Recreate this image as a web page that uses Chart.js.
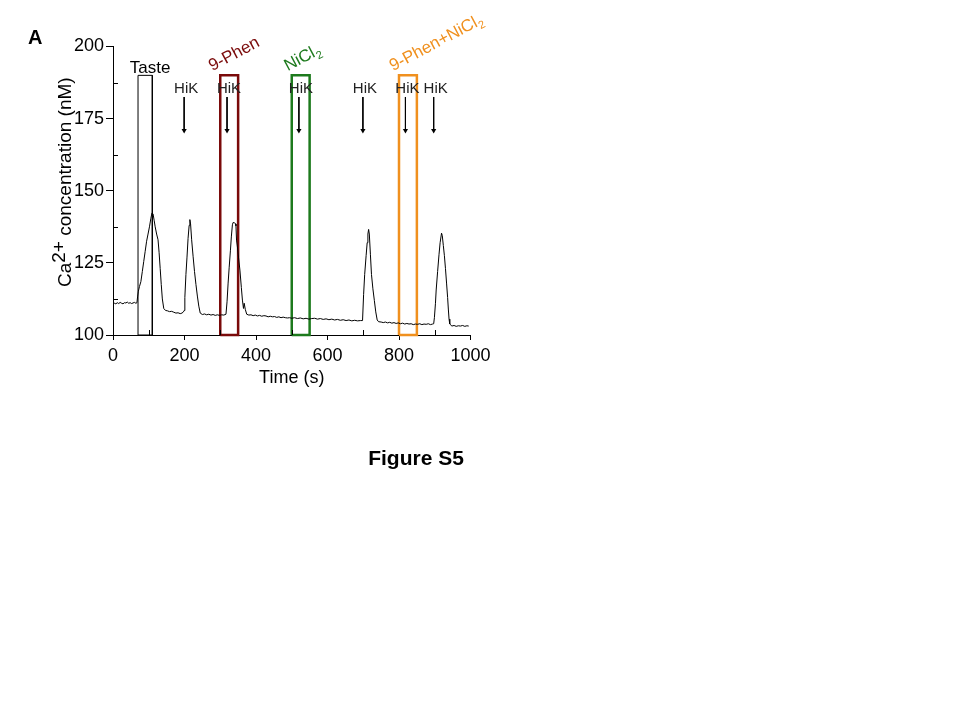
<!DOCTYPE html>
<html>
<head>
<meta charset="utf-8">
<script src="https://cdn.jsdelivr.net/npm/chart.js@4.4.1/dist/chart.umd.min.js"></script>
<style>
    html, body { margin: 0; padding: 0; background: #fff; }
    #wrap { width: 960px; height: 720px; position: relative; }
</style>
</head>
<body>
<div id="wrap"><canvas id="caChart" width="960" height="720"></canvas></div>
<script>
// Ca2+ trace (time in s, concentration in nM)
const timeSec = [
    0, 4, 8, 12, 16, 20, 24, 28, 32, 36, 40, 44, 48, 52, 56, 60, 64, 67,
    69, 71, 74, 78, 82, 86, 90, 94, 98, 102, 106, 109, 112, 115, 118, 122, 126, 129, 132, 135, 138, 142, 147,
    152, 158, 164, 170, 176, 182, 188, 193, 197,
    199, 201, 204, 207, 210, 213, 215, 217, 220, 224, 228, 232, 236, 240, 244,
    250, 256, 262, 268, 274, 280, 286, 292, 298, 304, 310, 316,
    319, 322, 325, 328.5, 331, 334, 336, 340, 343, 344, 345.5, 348, 351, 355, 359, 362, 365, 367, 370, 374, 380,
    386, 392, 398, 404, 410, 416, 422, 428, 434, 440, 446, 452, 458, 464, 470, 476, 482, 488, 494, 500, 508, 516, 524,
    532, 540, 548, 556, 564, 572, 580, 588, 596, 604, 612, 620, 628, 636, 644, 652, 660, 668, 676, 684, 692, 698,
    701, 704, 708, 711, 713, 715, 717, 720, 723, 727, 731, 735, 739, 743,
    750, 756, 762, 768, 774, 780, 786, 792, 798, 804, 810, 816, 822, 828, 834, 840, 846, 852, 858, 864, 870, 876, 882, 888, 894, 897,
    899, 902, 904, 908, 912, 915, 919, 921, 924, 927, 930, 933, 936, 938, 940, 942,
    948, 954, 960, 966, 972, 978, 984, 990, 995
];
const caConc = [
    110.6, 111.0, 110.8, 111.2, 110.9, 111.3, 111.0, 110.8, 111.2, 111.1, 111.4, 111.0, 111.2, 110.9, 111.1, 111.3, 111.0, 111.2,
    113.5, 115.2, 116.8, 118.5, 122.0, 125.5, 129.0, 132.5, 135.0, 137.5, 140.5, 142.3, 142.0, 139.8, 137.5, 135.0, 133.0, 128.5, 123.0, 117.5, 112.5, 109.2, 108.5,
    108.4, 108.1, 108.2, 107.9, 107.6, 107.7, 107.4, 107.6, 108.0,
    108.5, 113.0, 121.0, 127.0, 133.5, 138.0, 140.0, 138.5, 133.0, 127.3, 122.0, 117.5, 113.5, 110.0, 107.6,
    107.1, 107.3, 107.0, 107.2, 106.9, 107.1, 106.8, 107.0, 106.8, 107.0, 106.9, 107.2,
    111.5, 118.0, 123.5, 129.4, 134.0, 138.2, 139.0, 138.9, 138.5, 137.8, 132.9, 130.5, 127.0, 122.5, 116.5, 112.1, 109.2, 111.0, 108.9, 107.2, 106.9,
    107.0, 106.7, 106.9, 106.6, 106.8, 106.5, 106.7, 106.6, 106.3, 106.5, 106.3, 106.4, 106.1, 106.3, 106.0, 106.2, 106.0, 105.9, 106.0, 105.8, 106.0, 105.7, 105.9,
    105.6, 105.8, 105.5, 105.7, 105.8, 105.5, 105.7, 105.4, 105.6, 105.3, 105.5, 105.2, 105.4, 105.1, 105.3, 105.0, 105.2, 104.9, 105.1, 104.9, 105.0, 105.0,
    114.0, 121.0, 127.5, 132.0, 135.0, 136.6, 135.0, 128.0, 121.0, 116.0, 112.0, 108.0, 105.2, 104.6,
    104.5, 104.3, 104.5, 104.2, 104.4, 104.1, 104.3, 104.0, 104.2, 103.9, 104.1, 103.8, 104.0, 103.8, 103.9, 103.6, 103.8, 103.7, 103.9, 103.6, 103.8, 103.7, 103.9, 103.6, 103.8, 103.9,
    106.0, 111.0, 115.6, 122.0, 128.0, 132.0, 135.3, 134.5, 131.0, 127.5, 123.0, 118.0, 113.0, 109.0, 105.5, 103.8,
    103.1, 103.3, 103.0, 103.2, 103.1, 103.3, 103.0, 103.2, 103.1
];

// application windows
const boxNames = ["Taste", "9-Phen", "NiCl", "9-Phen+NiCl"];
const boxSubs = ["", "", "2", "2"];
const boxStart = [70, 300, 500, 800];
const boxEnd = [110, 350, 550, 850];
const boxColors = ["#000000", "#7a0a0a", "#1d7a1d", "#f0901e"];

// HiK arrows
const hikTimes = [199, 319, 520, 699, 818, 897];

// minor ticks (drawn inwards)
const xMinorTicks = [100, 300, 500, 700, 900];
const yMinorTicks = [112.5, 137.5, 162.5, 187.5];

const FONT = "'Liberation Sans', Arial, sans-serif";
Chart.defaults.font.family = FONT;
Chart.defaults.color = "#000";

const BOX_TOP = 190;
const ARROW_TOP = 182.5;
const ARROW_END = 170.9;
const labelShift = [0, -8, -4, -6]; // px offset of rotated labels from the box left edge

const traceSet = {
    data: timeSec.map((t, i) => ({ x: t, y: caConc[i] })),
    borderColor: "#000",
    borderWidth: 1,
    pointRadius: 0,
    tension: 0,
};

const boxSets = boxStart.map((s, i) => ({
    data: [
        { x: s, y: 100 }, { x: s, y: BOX_TOP },
        { x: boxEnd[i], y: BOX_TOP }, { x: boxEnd[i], y: 100 }, { x: s, y: 100 },
    ],
    borderColor: boxColors[i],
    borderWidth: i === 0 ? 1 : 2.5,
    pointRadius: 0,
    borderJoinStyle: "miter",
    clip: false,
}));

const arrowSets = hikTimes.map((t) => ({
    data: [{ x: t, y: ARROW_TOP }, { x: t, y: ARROW_END }],
    borderColor: "#000",
    borderWidth: 1,
    pointRadius: [0, 3],
    pointStyle: "triangle",
    rotation: 180,
    pointBackgroundColor: "#000",
    pointBorderWidth: 0,
    clip: false,
}));

const decorPlugin = {
    id: "decor",
    afterDraw(chart) {
        const { ctx, chartArea, scales } = chart;
        const x = scales.x, y = scales.y;
        ctx.save();

        // inward minor ticks
        ctx.strokeStyle = "#000";
        ctx.lineWidth = 1;
        ctx.beginPath();
        xMinorTicks.forEach((v) => {
            const px = Math.round(x.getPixelForValue(v)) + 0.5;
            ctx.moveTo(px, chartArea.bottom);
            ctx.lineTo(px, chartArea.bottom - 5);
        });
        yMinorTicks.forEach((v) => {
            const py = Math.round(y.getPixelForValue(v)) + 0.5;
            ctx.moveTo(chartArea.left, py);
            ctx.lineTo(chartArea.left + 5, py);
        });
        ctx.stroke();

        // y axis title with superscript
        ctx.save();
        ctx.translate(65.5, 287);
        ctx.rotate(-Math.PI / 2);
        ctx.font = `19px ${FONT}`;
        ctx.fillStyle = "#000";
        ctx.textBaseline = "middle";
        ctx.textAlign = "left";
        ctx.fillText("Ca", 0, 0);
        const w1 = ctx.measureText("Ca").width;
        ctx.fillText("2+", w1, -6);
        const w2 = ctx.measureText("2+").width;
        ctx.fillText(" concentration (nM)", w1 + w2, 0);
        ctx.restore();

        // box labels
        const topPx = y.getPixelForValue(BOX_TOP);
        boxNames.forEach((name, i) => {
            if (i === 0) {
                ctx.font = `17px ${FONT}`;
                ctx.fillStyle = boxColors[0];
                ctx.textAlign = "center";
                ctx.textBaseline = "alphabetic";
                const cx = (x.getPixelForValue(boxStart[0]) + x.getPixelForValue(boxEnd[0])) / 2 + 5;
                ctx.fillText(name, cx, topPx - 2);
                return;
            }
            ctx.save();
            ctx.translate(x.getPixelForValue(boxStart[i]) + labelShift[i], topPx - 4);
            ctx.rotate(-28 * Math.PI / 180);
            ctx.fillStyle = boxColors[i];
            ctx.textAlign = "left";
            ctx.textBaseline = "alphabetic";
            ctx.font = `17px ${FONT}`;
            ctx.fillText(name, 0, 0);
            if (boxSubs[i]) {
                const w = ctx.measureText(name).width;
                ctx.font = `11px ${FONT}`;
                ctx.fillText(boxSubs[i], w + 0.5, 4);
            }
            ctx.restore();
        });

        // HiK labels
        ctx.font = `15px ${FONT}`;
        ctx.fillStyle = "#222";
        ctx.textAlign = "center";
        ctx.textBaseline = "alphabetic";
        const arrowTopPx = y.getPixelForValue(ARROW_TOP);
        hikTimes.forEach((t) => {
            ctx.fillText("HiK", x.getPixelForValue(t) + 2, arrowTopPx - 3.5);
        });

        // panel letter and figure caption
        ctx.fillStyle = "#000";
        ctx.textAlign = "left";
        ctx.font = `bold 20px ${FONT}`;
        ctx.fillText("A", 28, 43.5);
        ctx.textAlign = "center";
        ctx.font = `bold 21px ${FONT}`;
        ctx.fillText("Figure S5", 416, 465);

        ctx.restore();
    },
};

const ctx = document.getElementById("caChart").getContext("2d");
new Chart(ctx, {
    type: "line",
    data: { datasets: [traceSet, ...boxSets, ...arrowSets] },
    options: {
        responsive: false,
        animation: false,
        layout: { padding: { left: 0, top: 46.5, right: 489.5, bottom: 331 } },
        plugins: {
            legend: { display: false },
            tooltip: { enabled: false },
        },
        scales: {
            x: {
                type: "linear",
                min: 0,
                max: 1000,
                border: { display: true, color: "#000", width: 1 },
                grid: { display: true, drawOnChartArea: false, drawTicks: true, tickLength: 5, color: "#000" },
                ticks: {
                    stepSize: 200,
                    font: { size: 18 },
                    color: "#000",
                    padding: 5,
                    maxRotation: 0,
                    callback: (v) => String(v),
                },
                title: { display: true, text: "Time (s)", font: { size: 18 }, color: "#000", padding: { top: 0, bottom: 0 } },
                afterFit: (s) => { s.height = 54; },
            },
            y: {
                type: "linear",
                min: 100,
                max: 200,
                border: { display: true, color: "#000", width: 1 },
                grid: { display: true, drawOnChartArea: false, drawTicks: true, tickLength: 7, color: "#000" },
                ticks: { stepSize: 25, font: { size: 18 }, color: "#000", padding: 2 },
                afterFit: (s) => { s.width = 113; },
            },
        },
    },
    plugins: [decorPlugin],
});
</script>
</body>
</html>
